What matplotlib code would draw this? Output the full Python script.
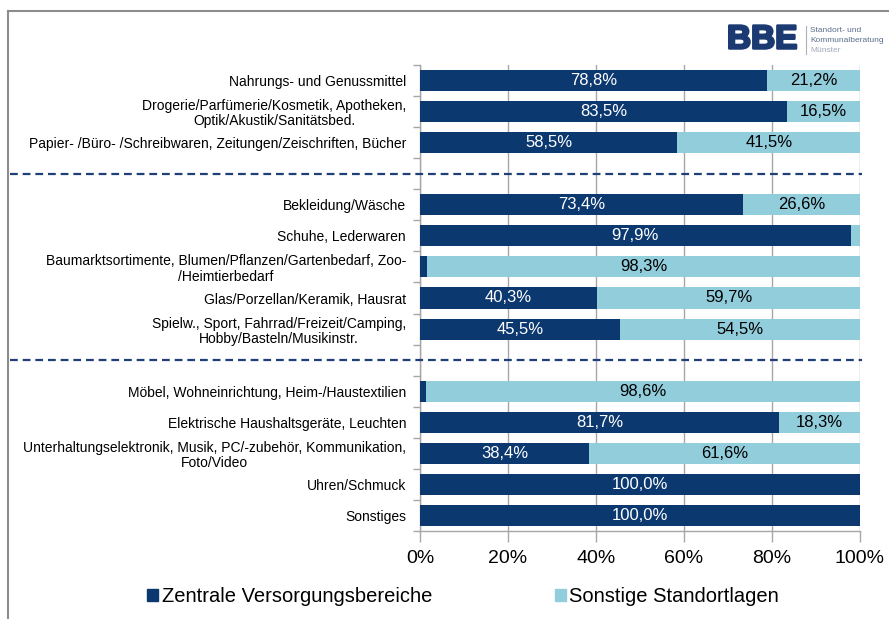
import matplotlib
matplotlib.use("Agg")
import matplotlib.pyplot as plt
from matplotlib.lines import Line2D
import matplotlib.transforms as mtransforms
import matplotlib.patheffects as pe

plt.rcParams['font.family'] = ['Liberation Sans', 'DejaVu Sans']

groups = [
    ["Nahrungs- und Genussmittel",
     "Drogerie/Parfümerie/Kosmetik, Apotheken,\nOptik/Akustik/Sanitätsbed.",
     "Papier- /Büro- /Schreibwaren, Zeitungen/Zeischriften, Bücher"],
    ["Bekleidung/Wäsche",
     "Schuhe, Lederwaren",
     "Baumarktsortimente, Blumen/Pflanzen/Gartenbedarf, Zoo-\n/Heimtierbedarf",
     "Glas/Porzellan/Keramik, Hausrat",
     "Spielw., Sport, Fahrrad/Freizeit/Camping,\nHobby/Basteln/Musikinstr."],
    ["Möbel, Wohneinrichtung, Heim-/Haustextilien",
     "Elektrische Haushaltsgeräte, Leuchten",
     "Unterhaltungselektronik, Musik, PC/-zubehör, Kommunikation,\nFoto/Video",
     "Uhren/Schmuck",
     "Sonstiges"],
]
zentral = [78.8, 83.5, 58.5, 73.4, 97.9, 1.7, 40.3, 45.5, 1.4, 81.7, 38.4, 100.0, 100.0]
sonstige = [21.2, 16.5, 41.5, 26.6, 2.1, 98.3, 59.7, 54.5, 98.6, 18.3, 61.6, 0.0, 0.0]
series_names = ["Zentrale Versorgungsbereiche", "Sonstige Standortlagen"]
xticks = [0, 20, 40, 60, 80, 100]
xticklabels = ["0%", "20%", "40%", "60%", "80%", "100%"]

dark = "#0C3870"
light = "#92CDDC"
grid = "#A6A6A6"

# positions with a gap slot between groups
labels, ypos, seps = [], [], []
pos = 0
for gi, g in enumerate(groups):
    if gi > 0:
        seps.append(pos)
        pos += 1
    for lab in g:
        labels.append(lab)
        ypos.append(pos)
        pos += 1
nslots = pos

fig = plt.figure(figsize=(8.89, 6.19), dpi=100)
ax = fig.add_axes([420/889, 1-531/619, 440/889, (531-65)/619])

h = 0.68
ax.barh(ypos, zentral, height=h, color=dark, zorder=3, label=series_names[0])
ax.barh(ypos, sonstige, left=zentral, height=h, color=light, zorder=3, label=series_names[1])

for y, a, b in zip(ypos, zentral, sonstige):
    if a >= 5:
        ax.text(a/2, y, f"{a:.1f}%".replace('.', ','), ha='center', va='center',
                color='white', fontsize=12, zorder=4)
    if b >= 5:
        ax.text(a + b/2, y, f"{b:.1f}%".replace('.', ','), ha='center', va='center',
                color='black', fontsize=12, zorder=4)

ax.set_xlim(0, 100)
ax.set_ylim(nslots - 0.5, -0.5)
ax.set_xticks(xticks)
ax.set_xticklabels(xticklabels, fontsize=14)
ax.set_yticks(ypos)
ax.set_yticklabels(labels, fontsize=10, multialignment='center', linespacing=1.1)
ax.tick_params(axis='y', length=0, pad=10)
ax.set_yticks([i - 0.5 for i in range(nslots + 1)], minor=True)
ax.tick_params(axis='y', which='minor', length=5, color=grid, width=1)
ax.tick_params(axis='x', length=8, color=grid, width=1, pad=6, direction='out')
ax.xaxis.grid(True, color=grid, linewidth=1, zorder=0)
for s in ['top', 'right']:
    ax.spines[s].set_visible(False)
for s in ['left', 'bottom']:
    ax.spines[s].set_color(grid)
    ax.spines[s].set_linewidth(1)

# dashed separators spanning from figure edge to plot end
trans = mtransforms.blended_transform_factory(fig.transFigure, ax.transData)
for s in seps:
    ax.add_line(Line2D([10/889, 862/889], [s, s], transform=trans, color="#1F3F78",
                       linestyle=(0, (3.5, 2.2)), linewidth=1.6, clip_on=False, zorder=5))

# frame lines (slide border)
fig.add_artist(Line2D([8/889, 8/889], [0, 1-11/619], transform=fig.transFigure, color="#8C8C8C", linewidth=1.5))
fig.add_artist(Line2D([8/889, 1], [1-11/619, 1-11/619], transform=fig.transFigure, color="#8C8C8C", linewidth=1.5))

# logo
fig.text(727/889, 1-40/619, "BBE", fontsize=24, fontweight='bold', color="#1B3A72", va='center', ha='left',
         path_effects=[pe.withStroke(linewidth=1.8, foreground="#1B3A72")])
fig.add_artist(Line2D([806/889, 806/889], [1-54/619, 1-26/619], transform=fig.transFigure, color="#B0B0B0", linewidth=0.8))
fig.text(810/889, 1-30/619, "Standort- und", fontsize=6, color="#5A6E8C", va='center')
fig.text(810/889, 1-40/619, "Kommunalberatung", fontsize=6, color="#5A6E8C", va='center')
fig.text(810/889, 1-50/619, "Münster", fontsize=6, color="#A0A8B8", va='center')

# legend
handles = [plt.Rectangle((0, 0), 1, 1, color=dark), plt.Rectangle((0, 0), 1, 1, color=light)]
fig.legend(handles, series_names, loc='center', bbox_to_anchor=(463/889, 1-597/619),
           ncol=2, frameon=False, fontsize=14.5, handlelength=0.55, handleheight=0.55,
           handletextpad=0.15, columnspacing=6.1)

fig.savefig("out.png", dpi=100)
